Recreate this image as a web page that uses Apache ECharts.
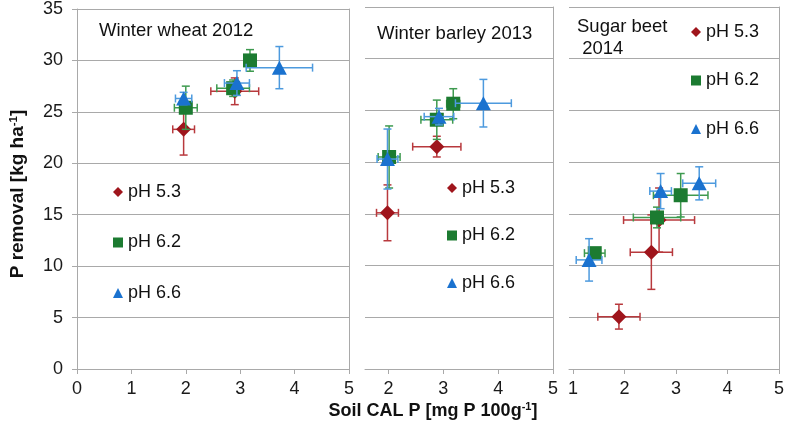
<!DOCTYPE html>
<html>
<head>
<meta charset="utf-8">
<script src="https://cdn.jsdelivr.net/npm/echarts@6/dist/echarts.min.js"></script>
<style>
html,body{margin:0;padding:0;background:#fff;}
#c{width:787px;height:429px;}
</style>
</head>
<body>
<div id="c"></div>
<script>
// ---- data: [soil CAL P, P removal, x error, y error] ----
const groups = ['pH 5.3', 'pH 6.2', 'pH 6.6'];
const panelTitles = ['Winter wheat 2012', 'Winter barley 2013', 'Sugar beet\n 2014'];
const yTicks = [0, 5, 10, 15, 20, 25, 30, 35];
const xTicks1 = [0, 1, 2, 3, 4, 5];
const xTicks2 = [2, 3, 4, 5];
const xTicks3 = [1, 2, 3, 4, 5];

const wheat_pH53 = [[1.96, 23.3, 0.20, 2.5], [2.90, 27.0, 0.44, 1.3]];
const wheat_pH62 = [[2.00, 25.4, 0.21, 2.1], [2.87, 27.3, 0.30, 0.8], [3.18, 30.0, 0.10, 1.05]];
const wheat_pH66 = [[1.96, 26.3, 0.15, 0.6], [2.94, 27.8, 0.23, 1.2], [3.72, 29.3, 0.61, 2.05]];

const barley_pH53 = [[1.98, 15.1, 0.20, 2.7], [2.88, 21.5, 0.44, 1.0]];
const barley_pH62 = [[2.01, 20.5, 0.20, 3.0], [2.88, 24.1, 0.29, 1.9], [3.18, 25.65, 0.12, 1.45]];
const barley_pH66 = [[1.98, 20.3, 0.19, 2.9], [2.92, 24.4, 0.27, 0.8], [3.73, 25.7, 0.51, 2.3]];

const beet_pH53 = [[1.89, 5.06, 0.41, 1.2], [2.52, 11.3, 0.41, 3.6], [2.67, 14.4, 0.69, 3.1]];
const beet_pH62 = [[1.42, 11.2, 0.20, 0.5], [2.63, 14.65, 0.46, 1.0], [3.09, 16.8, 0.53, 2.1]];
const beet_pH66 = [[1.31, 10.55, 0.25, 2.05], [2.70, 17.2, 0.21, 1.7], [3.45, 17.95, 0.32, 1.6]];

const panelData = [
  [wheat_pH53, wheat_pH62, wheat_pH66],
  [barley_pH53, barley_pH62, barley_pH66],
  [beet_pH53, beet_pH62, beet_pH66]
];

// ---- styles ----
const FONT = "'Liberation Sans', Arial, sans-serif";
const markerColors = ['#9f151c', '#1c7b31', '#1a72cf'];
const barColors = ['#b8393d', '#3e9a4f', '#4d9ade'];
const symbols = ['diamond', 'rect', 'triangle'];
const symbolSizes = [[15, 15], [14, 14], [15, 14]];
const gridColor = '#a9a9a9';

const grids = [
  { left: 77, top: 7, width: 272, height: 362 },
  { left: 365, top: 7, width: 188, height: 362 },
  { left: 569, top: 7, width: 212, height: 362 }
];
const xRanges = [[0, 5], [1.57, 5], [0.92, 5]];
const xTickSets = [xTicks1, xTicks2, xTicks3];

const xAxes = [], yAxes = [], series = [];
for (let p = 0; p < 3; p++) {
  xAxes.push({
    type: 'value', gridIndex: p, min: xRanges[p][0], max: xRanges[p][1],
    interval: p === 0 ? 1 : undefined,
    axisLine: { show: true, lineStyle: { color: gridColor, width: 1 } },
    axisTick: { show: true, length: 5, lineStyle: { color: gridColor }, customValues: xTickSets[p] },
    axisLabel: { show: true, margin: 11, fontSize: 18, fontFamily: FONT, color: '#1a1a1a', customValues: xTickSets[p] },
    splitLine: { show: false }
  });
  yAxes.push({
    type: 'value', gridIndex: p, min: yTicks[0], max: yTicks[yTicks.length - 1], interval: 5, position: 'left',
    axisLine: { show: p === 0, lineStyle: { color: gridColor } },
    axisTick: { show: p === 0, length: 5, lineStyle: { color: gridColor } },
    axisLabel: { show: p === 0, margin: 14, fontSize: 18, fontFamily: FONT, color: '#1a1a1a' },
    splitLine: { show: true, lineStyle: { color: gridColor, width: 1 } }
  });
}
// right-side frame lines
for (let p = 0; p < 3; p++) {
  yAxes.push({
    type: 'value', gridIndex: p, min: 0, max: 35, interval: 35, position: 'right',
    axisLine: { show: true, lineStyle: { color: gridColor } },
    axisTick: { show: false }, axisLabel: { show: false }, splitLine: { show: false }
  });
}

function makeErrRender(color) {
  return function (params, api) {
    const x = api.value(0), y = api.value(1), xe = api.value(2), ye = api.value(3);
    const l = api.coord([x - xe, y]), r = api.coord([x + xe, y]);
    const t = api.coord([x, y + ye]), b = api.coord([x, y - ye]);
    const cap = 4;
    const st = { stroke: color, lineWidth: 1.5 };
    const seg = (x1, y1, x2, y2) => ({ type: 'line', shape: { x1, y1, x2, y2 }, style: st });
    return {
      type: 'group',
      children: [
        seg(l[0], l[1], r[0], r[1]),
        seg(l[0], l[1] - cap, l[0], l[1] + cap),
        seg(r[0], r[1] - cap, r[0], r[1] + cap),
        seg(t[0], t[1], b[0], b[1]),
        seg(t[0] - cap, t[1], t[0] + cap, t[1]),
        seg(b[0] - cap, b[1], b[0] + cap, b[1])
      ]
    };
  };
}

for (let p = 0; p < 3; p++) {
  for (let g = 0; g < 3; g++) {
    series.push({
      name: 'err' + p + g, type: 'custom', xAxisIndex: p, yAxisIndex: p,
      renderItem: makeErrRender(barColors[g]), data: panelData[p][g],
      encode: { x: 0, y: 1 }, z: 2 + g * 2, silent: true, clip: false
    });
    series.push({
      name: groups[g], type: 'scatter', xAxisIndex: p, yAxisIndex: p,
      data: panelData[p][g].map(d => [d[0], d[1]]),
      symbol: symbols[g], symbolSize: symbolSizes[g],
      itemStyle: { color: markerColors[g], opacity: 1 },
      z: 3 + g * 2, silent: true
    });
  }
}

const legendPos = [
  { left: 113, top: 182, itemGap: 30.5 },
  { left: 447, top: 178, itemGap: 27.5 },
  { left: 691, top: 22, itemGap: 28.5 }
];
const legends = legendPos.map(lp => ({
  orient: 'vertical', left: lp.left, top: lp.top, itemGap: lp.itemGap, padding: 0,
  itemWidth: 10, itemHeight: 10, selectedMode: false,
  textStyle: { fontSize: 18, fontFamily: FONT, color: '#111', lineHeight: 20 },
  data: groups.map((n, i) => ({ name: n, icon: symbols[i] }))
}));

const titlePos = [{ left: 99, top: 20 }, { left: 377, top: 23 }, { left: 577, top: 16 }];
const titles = panelTitles.map((t, i) => ({
  text: t, left: titlePos[i].left, top: titlePos[i].top, padding: 0,
  textStyle: { fontSize: 18.5, fontWeight: 'normal', fontFamily: FONT, color: '#111', lineHeight: 22 }
}));

const chart = echarts.init(document.getElementById('c'));
chart.setOption({
  animation: false,
  backgroundColor: '#fff',
  title: titles,
  legend: legends,
  grid: grids,
  xAxis: xAxes,
  yAxis: yAxes,
  series: series,
  graphic: [
    {
      type: 'text', x: 433, y: 411,
      style: {
        text: 'Soil CAL P [mg P 100g{sup|-1}]', align: 'center', verticalAlign: 'middle',
        fontSize: 18, fontWeight: 'bold', fontFamily: FONT, fill: '#111',
        rich: { sup: { fontSize: 11, fontWeight: 'bold', fontFamily: FONT, verticalAlign: 'top', padding: [0, 0, 8, 0] } }
      }
    },
    {
      type: 'text', x: 18, y: 194, rotation: Math.PI / 2,
      style: {
        text: 'P removal [kg ha{sup|-1}]', align: 'center', verticalAlign: 'middle',
        fontSize: 19, fontWeight: 'bold', fontFamily: FONT, fill: '#111',
        rich: { sup: { fontSize: 11.5, fontWeight: 'bold', fontFamily: FONT, verticalAlign: 'top', padding: [0, 0, 8, 0] } }
      }
    }
  ]
});
</script>
</body>
</html>
